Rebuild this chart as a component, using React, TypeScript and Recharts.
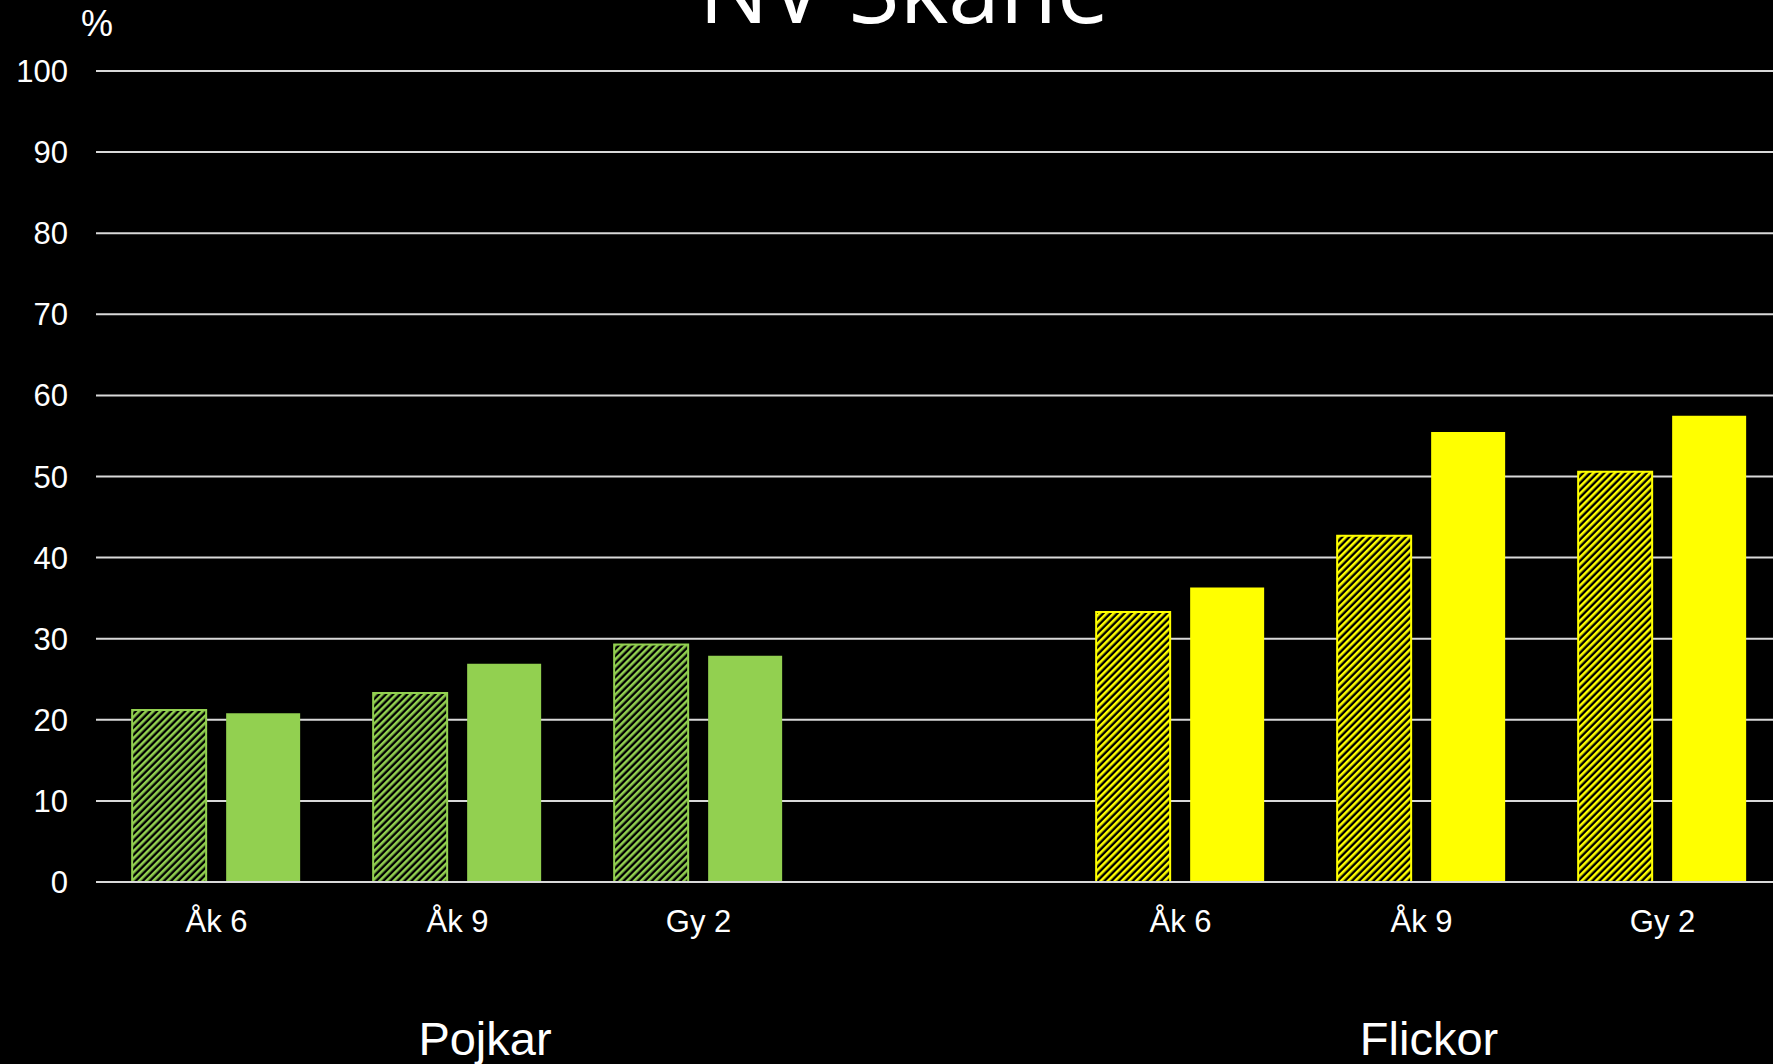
import React from "react";
import { BarChart, Bar, Cell, XAxis, YAxis, CartesianGrid } from "recharts";

// categories (the empty slot separates boys and girls)
const categories = ["Åk 6", "Åk 9", "Gy 2", "", "Åk 6", "Åk 9", "Gy 2"];
const groupOf = ["Pojkar", "Pojkar", "Pojkar", "", "Flickor", "Flickor", "Flickor"];
// hatched series and solid series (percent)
const hatchedValues = [21.2, 23.3, 29.3, null, 33.3, 42.7, 50.6];
const solidValues = [20.8, 26.9, 27.9, null, 36.3, 55.5, 57.5];
const yTicks = [0, 10, 20, 30, 40, 50, 60, 70, 80, 90, 100];

const GREEN = "#92D050";
const YELLOW = "#FFFF00";

const data = categories.map((c, i) => ({
  idx: i,
  name: c,
  group: groupOf[i],
  hatched: hatchedValues[i],
  solid: solidValues[i],
}));

const colorFor = (i: number) => (groupOf[i] === "Pojkar" ? GREEN : YELLOW);

const W = 1773;
const H = 1064;

export default function App() {
  if (typeof document !== "undefined") {
    document.body.style.margin = "0";
    document.body.style.background = "#000";
  }
  return (
    <div
      style={{
        position: "absolute",
        top: 0,
        left: 0,
        width: W,
        height: H,
        background: "#000",
        overflow: "hidden",
        fontFamily: "'Liberation Sans', Arial, sans-serif",
      }}
    >
      <svg width={0} height={0} style={{ position: "absolute" }}>
        <defs>
          <pattern
            id="hatchGreen"
            patternUnits="userSpaceOnUse"
            width={5}
            height={5}
            patternTransform="rotate(45)"
          >
            <rect width={5} height={5} fill="#000" />
            <rect width={2.6} height={5} fill={GREEN} />
          </pattern>
          <pattern
            id="hatchYellow"
            patternUnits="userSpaceOnUse"
            width={5}
            height={5}
            patternTransform="rotate(45)"
          >
            <rect width={5} height={5} fill="#000" />
            <rect width={2.6} height={5} fill={YELLOW} />
          </pattern>
        </defs>
      </svg>
      <BarChart
        width={W}
        height={H}
        data={data}
        margin={{ top: 71, right: -10, left: 0, bottom: 0 }}
        barCategoryGap="15%"
        barGap={20}
      >
        <CartesianGrid vertical={false} stroke="#d9d9d9" strokeWidth={2} />
        <XAxis
          dataKey="idx"
          type="category"
          height={182}
          tickFormatter={(v: number) => categories[v]}
          tickLine={false}
          tickSize={0}
          tickMargin={28}
          axisLine={{ stroke: "#d9d9d9", strokeWidth: 2 }}
          tick={{ fill: "#fff", fontSize: 31 }}
          interval={0}
        />
        <YAxis
          width={96}
          domain={[0, 100]}
          ticks={yTicks}
          axisLine={false}
          tickLine={false}
          tickSize={0}
          tickMargin={28}
          tick={{ fill: "#fff", fontSize: 31 }}
        />
        <Bar dataKey="hatched" isAnimationActive={false}>
          {data.map((d, i) => (
            <Cell
              key={`h-${i}`}
              fill={groupOf[i] === "Pojkar" ? "url(#hatchGreen)" : "url(#hatchYellow)"}
              stroke={colorFor(i)}
              strokeWidth={2}
            />
          ))}
        </Bar>
        <Bar dataKey="solid" isAnimationActive={false}>
          {data.map((d, i) => (
            <Cell key={`s-${i}`} fill={colorFor(i)} />
          ))}
        </Bar>
      </BarChart>
      <svg
        width={W}
        height={H}
        style={{ position: "absolute", top: 0, left: 0, pointerEvents: "none" }}
      >
        <text
          x={904}
          y={23}
          textAnchor="middle"
          fill="#fff"
          fontSize={93}
          fontFamily="'Open Sans', sans-serif"
        >
          NV Skåne
        </text>
        <text x={97} y={36} textAnchor="middle" fill="#fff" fontSize={36}>
          %
        </text>
        <text x={485} y={1055} textAnchor="middle" fill="#fff" fontSize={47}>
          Pojkar
        </text>
        <text x={1429} y={1055} textAnchor="middle" fill="#fff" fontSize={47}>
          Flickor
        </text>
      </svg>
    </div>
  );
}
